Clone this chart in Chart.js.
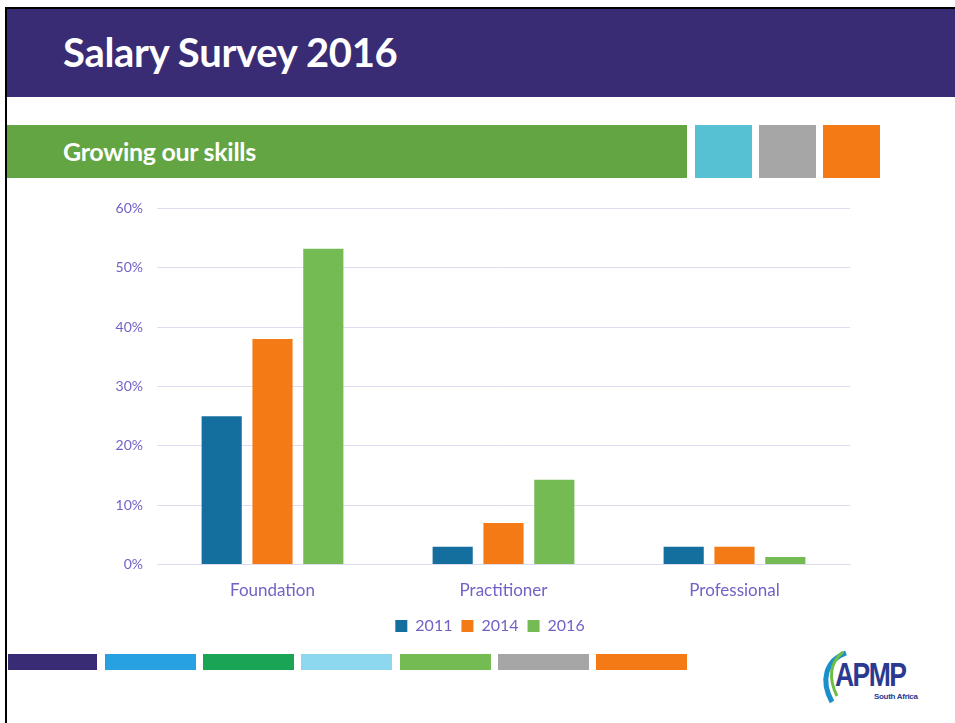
<!DOCTYPE html>
<html>
<head>
<meta charset="utf-8">
<script src="https://cdn.jsdelivr.net/npm/chart.js@4.4.1/dist/chart.umd.min.js"></script>
<style>
  html, body { margin: 0; padding: 0; background: #fff; }
  body { width: 955px; height: 723px; position: relative; overflow: hidden; font-family: Lato, "Open Sans", sans-serif; }
  .frame-top  { position: absolute; left: 5px; top: 7px; width: 950px; height: 2px; background: #000; }
  .frame-left { position: absolute; left: 5px; top: 7px; width: 2px; height: 716px; background: #000; }
  .header { position: absolute; left: 7px; top: 9px; width: 948px; height: 88px; background: #392C75; }
  .header h1 { margin: 0; position: absolute; left: 56px; top: 19px; color: #fff; font-size: 40px; font-weight: 700; letter-spacing: -0.3px; }
  .band { position: absolute; top: 125px; height: 53px; }
  .band.green { left: 7px; width: 680px; background: #62A542; }
  .band.green span { position: absolute; left: 56px; top: 11px; color: #fff; font-size: 25px; font-weight: 700; letter-spacing: -0.3px; }
  .strip { position: absolute; top: 654px; height: 16px; }
  #chartBox { position: absolute; left: 100px; top: 186px; width: 780px; height: 458px; }
  .logo { position: absolute; left: 818px; top: 650px; width: 115px; height: 60px; }
  .logo .apmp { position: absolute; left: 17px; top: 5px; font-family: "Liberation Sans", Arial, sans-serif; font-weight: 700; font-size: 34px; color: #2B3990; letter-spacing: -2px; transform: scaleX(0.78); transform-origin: left top; }
  .logo .sa { position: absolute; left: 56px; top: 42px; font-family: "Liberation Sans", Arial, sans-serif; font-weight: 700; font-size: 8px; color: #2B3990; letter-spacing: -0.3px; }
</style>
</head>
<body>
<div class="frame-top"></div>
<div class="frame-left"></div>
<div class="header"><h1>Salary Survey 2016</h1></div>
<div class="band green"><span>Growing our skills</span></div>
<div class="band" style="left:695px;width:57px;background:#56C1D2;"></div>
<div class="band" style="left:759px;width:57px;background:#A6A6A6;"></div>
<div class="band" style="left:823px;width:57px;background:#F47A16;"></div>

<div id="chartBox"><canvas id="skillsChart"></canvas></div>

<div class="strip" style="left:8px;width:89px;background:#392C75;"></div>
<div class="strip" style="left:105px;width:91px;background:#27A1E2;"></div>
<div class="strip" style="left:203px;width:91px;background:#1AA556;"></div>
<div class="strip" style="left:301px;width:91px;background:#8DD7EF;"></div>
<div class="strip" style="left:400px;width:91px;background:#74BB53;"></div>
<div class="strip" style="left:498px;width:91px;background:#A6A6A6;"></div>
<div class="strip" style="left:596px;width:91px;background:#F47A16;"></div>

<div class="logo">
  <svg width="40" height="60" style="position:absolute;left:0;top:0">
    <path d="M28 3 C8 10 2 30 14 52" stroke="#1B8FC9" stroke-width="5" fill="none"/>
    <path d="M25 2 C12 12 10 28 19 46" stroke="#6DBE45" stroke-width="3" fill="none"/>
  </svg>
  <div class="apmp">APMP</div>
  <div class="sa">South Africa</div>
</div>

<script>
// skill levels and the share of respondents per survey year
const categories = ['Foundation', 'Practitioner', 'Professional'];
const years      = ['2011', '2014', '2016'];
const share2011  = [25, 3, 3];
const share2014  = [38, 7, 3];
const share2016  = [53.2, 14.3, 1.3];
const yTicks     = [0, 10, 20, 30, 40, 50, 60];

const colors = ['#156F9E', '#F47A16', '#74BB53'];
const textColor = '#7262C6';
const gridColor = '#DEDCF0';

const series = [share2011, share2014, share2016];

// the legend in the slide sits a bit right of the canvas centre
const legendNudge = {
    id: 'legendNudge',
    afterLayout(chart) {
        if (!chart.legend) return;
        chart.legend.left  += 15;
        chart.legend.right += 15;
    },
};

new Chart(document.getElementById('skillsChart'), {
    type: 'bar',
    data: {
        labels: categories,
        datasets: years.map((y, i) => ({
            label: y,
            data: series[i],
            backgroundColor: colors[i],
            borderWidth: 0,
            categoryPercentage: 0.66,
            barPercentage: 0.79,
        })),
    },
    options: {
        responsive: true,
        maintainAspectRatio: false,
        animation: false,
        layout: { padding: { top: 4, right: 30, left: 0, bottom: 0 } },
        scales: {
            x: {
                grid: { display: false },
                border: { color: gridColor },
                ticks: {
                    color: textColor,
                    font: { family: 'Lato', size: 17 },
                    padding: 8,
                },
            },
            y: {
                min: 0,
                max: 60,
                afterBuildTicks: axis => { axis.ticks = yTicks.map(v => ({ value: v })); },
                afterFit: axis => { axis.width = 57; },
                grid: { color: gridColor, drawTicks: false },
                border: { display: false },
                ticks: {
                    color: textColor,
                    font: { family: 'Lato', size: 14 },
                    padding: 14,
                    callback: v => v + '%',
                },
            },
        },
        plugins: {
            legend: {
                position: 'bottom',
                labels: {
                    color: textColor,
                    font: { family: 'Lato', size: 16 },
                    boxWidth: 12,
                    boxHeight: 12,
                    padding: 9,
                },
            },
            tooltip: { enabled: false },
        },
    },
    plugins: [legendNudge],
});
</script>
</body>
</html>
